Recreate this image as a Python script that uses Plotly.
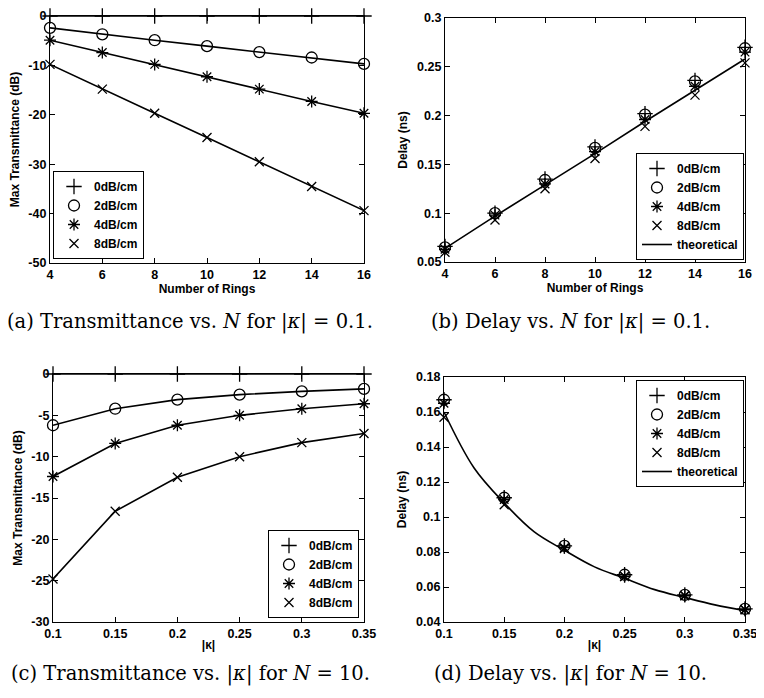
import plotly.graph_objects as go

# ---------------- data ----------------
rings = [4, 6, 8, 10, 12, 14, 16]
a_0db = [0, 0, 0, 0, 0, 0, 0]
a_2db = [-2.4, -3.7, -4.9, -6.1, -7.3, -8.4, -9.7]
a_4db = [-4.9, -7.4, -9.8, -12.3, -14.8, -17.3, -19.7]
a_8db = [-9.8, -14.8, -19.7, -24.6, -29.5, -34.5, -39.4]

b_0db = [0.066, 0.100, 0.135, 0.168, 0.202, 0.236, 0.270]
b_2db = [0.065, 0.100, 0.134, 0.167, 0.201, 0.235, 0.269]
b_4db = [0.063, 0.098, 0.130, 0.163, 0.196, 0.230, 0.265]
b_8db = [0.060, 0.093, 0.125, 0.156, 0.189, 0.221, 0.254]
b_theory = [0.064, 0.097, 0.129, 0.161, 0.194, 0.226, 0.258]

kappa = [0.10, 0.15, 0.20, 0.25, 0.30, 0.35]
c_0db = [0, 0, 0, 0, 0, 0]
c_2db = [-6.2, -4.2, -3.1, -2.5, -2.1, -1.8]
c_4db = [-12.4, -8.4, -6.2, -5.0, -4.2, -3.6]
c_8db = [-24.8, -16.6, -12.5, -10.0, -8.3, -7.2]

d_0db = [0.167, 0.111, 0.0835, 0.067, 0.0555, 0.0475]
d_2db = [0.167, 0.111, 0.0835, 0.067, 0.0555, 0.0475]
d_4db = [0.165, 0.110, 0.0825, 0.066, 0.055, 0.047]
d_8db = [0.157, 0.107, 0.082, 0.066, 0.055, 0.047]
d_theory_k = [0.10, 0.125, 0.15, 0.175, 0.20, 0.225, 0.25, 0.275, 0.30, 0.325, 0.35]
d_theory = [0.160, 0.128, 0.108, 0.0915, 0.081, 0.0715, 0.065, 0.0585, 0.054, 0.0498, 0.0465]

series_names = ["0dB/cm", "2dB/cm", "4dB/cm", "8dB/cm"]
theory_name = "theoretical"

a_yticks = [0, -10, -20, -30, -40, -50]
a_yticklabels = ["0", "-10", "-20", "-30", "-40", "-50"]
b_yticks = [0.05, 0.1, 0.15, 0.2, 0.25, 0.3]
b_yticklabels = ["0.05", "0.1", "0.15", "0.2", "0.25", "0.3"]
c_yticks = [0, -5, -10, -15, -20, -25, -30]
c_yticklabels = ["0", "-5", "-10", "-15", "-20", "-25", "-30"]
d_yticks = [0.04, 0.06, 0.08, 0.1, 0.12, 0.14, 0.16, 0.18]
d_yticklabels = ["0.04", "0.06", "0.08", "0.1", "0.12", "0.14", "0.16", "0.18"]
kappa_ticklabels = ["0.1", "0.15", "0.2", "0.25", "0.3", "0.35"]
ring_ticklabels = ["4", "6", "8", "10", "12", "14", "16"]

captions = [
    "(a) Transmittance vs. <i>N</i> for |<i>κ</i>| = 0.1.",
    "(b) Delay vs. <i>N</i> for |<i>κ</i>| = 0.1.",
    "(c) Transmittance vs. |<i>κ</i>| for <i>N</i> = 10.",
    "(d) Delay vs. |<i>κ</i>| for <i>N</i> = 10.",
]

# ---------------- layout helpers ----------------
# page body has an 8px margin, so the figure is offset by (8, 8) in the window
OX, OY = 8, 8
W, H = 756, 682
SANS = "Liberation Sans"
SERIF = "DejaVu Serif"

def px(x):
    return (x - OX) / W

def py(y):
    return 1 - (y - OY) / H

def xd(l, r):
    return [px(l), px(r)]

def yd(t, b):
    return [py(b), py(t)]

symbols = ["cross-thin-open", "circle-open", "asterisk-open", "x-thin-open"]
msizes = [11, 11, 10, 9]

fig = go.Figure()

def add_panel(idx, x, ys, lines, legend):
    xa = "x" if idx == 1 else f"x{idx}"
    ya = "y" if idx == 1 else f"y{idx}"
    if lines:
        for y in ys:
            fig.add_trace(go.Scatter(x=x, y=y, mode="lines", xaxis=xa, yaxis=ya,
                                     line=dict(color="black", width=1.6),
                                     showlegend=False, cliponaxis=False))
    for name, y, s, ms in zip(series_names, ys, symbols, msizes):
        fig.add_trace(go.Scatter(x=x, y=y, mode="markers", name=name, xaxis=xa, yaxis=ya,
                                 marker=dict(symbol=s, size=ms, color="black",
                                             line=dict(color="black", width=1.3)),
                                 legend=legend, cliponaxis=False))

add_panel(1, rings, [a_0db, a_2db, a_4db, a_8db], True, "legend")
add_panel(2, rings, [b_0db, b_2db, b_4db, b_8db], False, "legend2")
fig.add_trace(go.Scatter(x=rings, y=b_theory, mode="lines", name=theory_name,
                         xaxis="x2", yaxis="y2", line=dict(color="black", width=1.6),
                         legend="legend2"))
add_panel(3, kappa, [c_0db, c_2db, c_4db, c_8db], True, "legend3")
add_panel(4, kappa, [d_0db, d_2db, d_4db, d_8db], False, "legend4")
fig.add_trace(go.Scatter(x=d_theory_k, y=d_theory, mode="lines", name=theory_name,
                         xaxis="x4", yaxis="y4", line=dict(color="black", width=1.6, shape="spline"),
                         legend="legend4"))

tickfont = dict(family=SANS, size=12.5, color="black", weight="bold")
titlefont = dict(family=SANS, size=12, color="black", weight="bold")

def axis(domain, rng, tickvals, ticktext, title, anchor, standoff):
    return dict(domain=domain, range=rng, tickvals=tickvals, ticktext=ticktext,
                ticks="inside", ticklen=5, tickwidth=1, tickcolor="black",
                showline=True, linecolor="black", linewidth=1.2, mirror="ticks",
                showgrid=False, zeroline=False, anchor=anchor, automargin=False,
                tickfont=tickfont, ticklabeloverflow="allow",
                title=dict(text=title, font=titlefont, standoff=standoff))

fig.update_layout(
    template="none",
    width=W, height=H, margin=dict(l=0, r=0, t=0, b=0, autoexpand=False),
    paper_bgcolor="white", plot_bgcolor="white", showlegend=True,
    xaxis=axis(xd(50, 364), [4, 16], rings, ring_ticklabels, "Number of Rings", "y", 0),
    yaxis=axis(yd(16, 263), [-50, 0], a_yticks, a_yticklabels, "Max Transmittance (dB)", "x", 6),
    xaxis2=axis(xd(445, 745), [4, 16], rings, ring_ticklabels, "Number of Rings", "y2", 0),
    yaxis2=axis(yd(18, 262), [0.05, 0.3], b_yticks, b_yticklabels, "Delay (ns)", "x2", 6),
    xaxis3=axis(xd(53, 364), [0.1, 0.35], kappa, kappa_ticklabels, "|κ|", "y3", 0),
    yaxis3=axis(yd(374, 622), [-30, 0], c_yticks, c_yticklabels, "Max Transmittance (dB)", "x3", 6),
    xaxis4=axis(xd(444, 745), [0.1, 0.35], kappa, kappa_ticklabels, "|κ|", "y4", 0),
    yaxis4=axis(yd(377, 622), [0.04, 0.18], d_yticks, d_yticklabels, "Delay (ns)", "x4", 6),
)

legend_style = dict(bgcolor="white", bordercolor="black", borderwidth=1,
                    font=dict(family=SANS, size=12, color="black", weight="bold"),
                    xanchor="left", tracegroupgap=0, itemwidth=30)
fig.update_layout(
    legend=dict(x=px(53), y=py(259), yanchor="bottom", **legend_style),
    legend2=dict(x=px(636), y=py(260), yanchor="bottom", **legend_style),
    legend3=dict(x=px(268), y=py(618), yanchor="bottom", **legend_style),
    legend4=dict(x=px(636), y=py(380), yanchor="top", **legend_style),
)

cap_pos = [(190, 322), (570, 322), (190, 674), (570, 674)]
for text, (cx, cy) in zip(captions, cap_pos):
    fig.add_annotation(text=text, x=px(cx), y=py(cy), xref="paper", yref="paper",
                       showarrow=False, xanchor="center", yanchor="middle",
                       font=dict(family=SERIF, size=19.5, color="black"))

fig.write_html("out.html")
